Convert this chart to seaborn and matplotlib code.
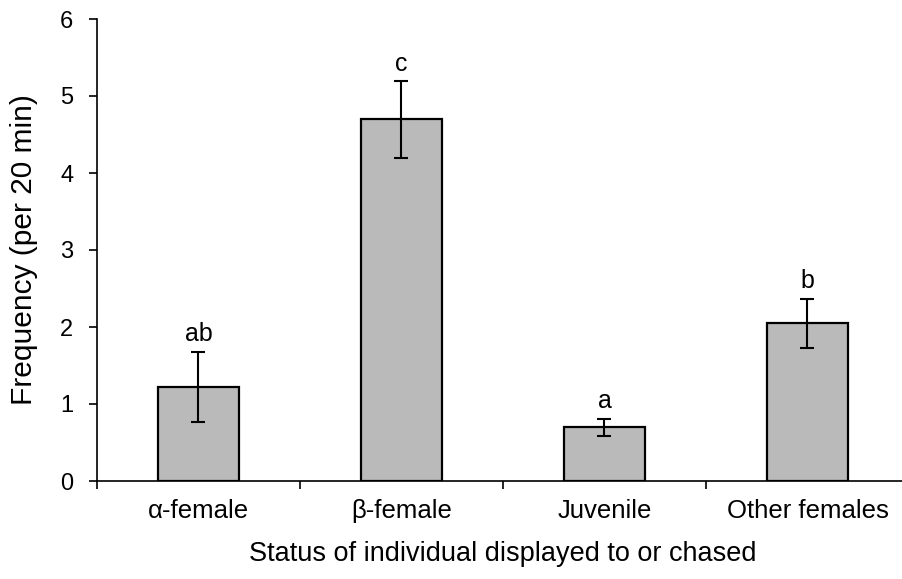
import numpy as np
import pandas as pd
import matplotlib
matplotlib.use("Agg")
import matplotlib.pyplot as plt
import seaborn as sns

# values
categories = ["α-female", "β-female", "Juvenile", "Other females"]
means = [1.22, 4.70, 0.70, 2.05]
err_low = [0.45, 0.50, 0.11, 0.32]
err_high = [0.46, 0.49, 0.11, 0.32]
letters = ["ab", "c", "a", "b"]

sns.set_style("ticks")
plt.rcParams["font.family"] = ["Liberation Sans", "DejaVu Sans"]
plt.rcParams["text.color"] = "black"
plt.rcParams["axes.labelcolor"] = "black"
plt.rcParams["xtick.color"] = "black"
plt.rcParams["ytick.color"] = "black"
plt.rcParams["axes.edgecolor"] = "black"

df = pd.DataFrame({"status": categories, "freq": means})

fig = plt.figure(figsize=(9.03, 5.79), dpi=100)
ax = fig.add_axes([97 / 903, 98 / 579, 812 / 903, 462 / 579])

sns.barplot(data=df, x="status", y="freq", color="#bababa", saturation=1,
            edgecolor="black", linewidth=1.6, width=0.4, errorbar=None, ax=ax)

pos = np.arange(len(categories))
ax.errorbar(pos, means, yerr=[err_low, err_high], fmt="none", ecolor="black",
            elinewidth=1.5, capsize=5, capthick=1.5)

for x, m, hi, lab in zip(pos, means, err_high, letters):
    ax.annotate(lab, (x, m + hi), xytext=(0, 4), textcoords="offset points",
                ha="center", va="bottom", fontsize=18)

ax.set_ylim(0, 6)
ax.set_xlim(-0.5, len(categories) - 0.5)
ax.set_yticks(range(0, 7))
ax.set_xticks(pos)
ax.set_xticks(np.arange(-0.5, len(categories)), minor=True)
ax.tick_params(axis="x", which="major", length=0, labelsize=18.5, pad=13)
ax.tick_params(axis="x", which="minor", length=6, width=1.2, direction="out")
ax.tick_params(axis="y", length=6, width=1.2, labelsize=17, pad=11)

ax.set_xlabel("Status of individual displayed to or chased", fontsize=19.5, labelpad=13)
ax.set_ylabel("Frequency (per 20 min)", fontsize=21.5, labelpad=16)

sns.despine(ax=ax)
for s in ["left", "bottom"]:
    ax.spines[s].set_linewidth(1.2)

fig.savefig("out.png", dpi=100)
